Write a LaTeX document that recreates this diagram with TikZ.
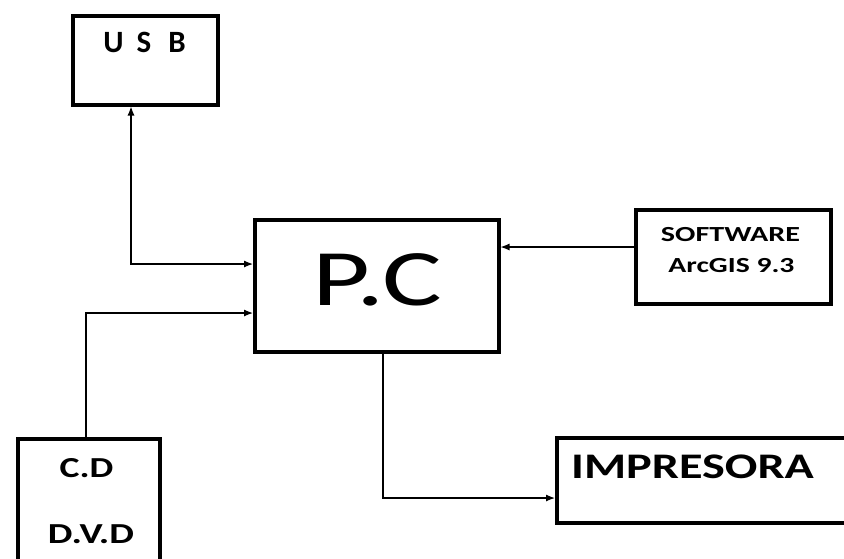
\documentclass[tikz,border=0pt]{standalone}
\usepackage{fontspec}
\setmainfont{Carlito}
\usetikzlibrary{arrows.meta}
\begin{document}
\begin{tikzpicture}[x=1pt,y=-1pt,
  >={Latex[length=9pt,width=7pt]},
  box/.style={draw, line width=3.5pt, rectangle, inner sep=0pt},
  conn/.style={line width=1.2pt, ->},
  lbl/.style={inner sep=0pt, anchor=base},
]
\useasboundingbox[fill=white] (0,0) rectangle (844,558);
% boxes
\node[box, minimum width=145pt, minimum height=89pt, anchor=north west] (usb) at (71,14) {};
\node[box, minimum width=244pt, minimum height=132pt, anchor=north west] (pc) at (253,218) {};
\node[box, minimum width=195pt, minimum height=94pt, anchor=north west] (sw) at (634,208) {};
\node[box, minimum width=142pt, minimum height=124pt, anchor=north west] (cd) at (16,437) {};
\node[box, minimum width=295pt, minimum height=85pt, anchor=north west] (imp) at (555,436) {};
% texts
\node[lbl, font=\fontsize{31}{31}\bfseries\selectfont] (usbt) at (144.5,52) {U\hspace{13pt}S\hspace{17pt}B};
\node[lbl, font=\fontsize{80}{80}\selectfont, xscale=1.4] (pct) at (377.5,305) {P.C};
\node[lbl, font=\fontsize{21.5}{21.5}\bfseries\selectfont, xscale=1.4] (swt1) at (730.5,241) {SOFTWARE};
\node[lbl, font=\fontsize{21.5}{21.5}\bfseries\selectfont, xscale=1.38] (swt2) at (731.5,272) {ArcGIS 9.3};
\node[lbl, font=\fontsize{29}{29}\bfseries\selectfont, xscale=1.3] (cdt1) at (86.5,477) {C.D};
\node[lbl, font=\fontsize{29}{29}\bfseries\selectfont, xscale=1.35] (cdt2) at (91,543) {D.V.D};
\node[lbl, font=\fontsize{36}{36}\bfseries\selectfont, xscale=1.34] (impt) at (692.5,478) {IMPRESORA};
% helper coordinates
\coordinate (ux) at (131,264);
\coordinate (cx) at (86,313);
\coordinate (sy) at (0,247);
\coordinate (px) at (383,498);
% connectors
\draw[line width=1.2pt, <->] (usb.south -| ux) |- (pc.west |- ux);
\draw[conn] (cd.north -| cx) |- (pc.west |- cx);
\draw[conn] (sw.west |- sy) -- (pc.east |- sy);
\draw[conn] (pc.south -| px) |- (imp.west |- px);
\end{tikzpicture}
\end{document}
